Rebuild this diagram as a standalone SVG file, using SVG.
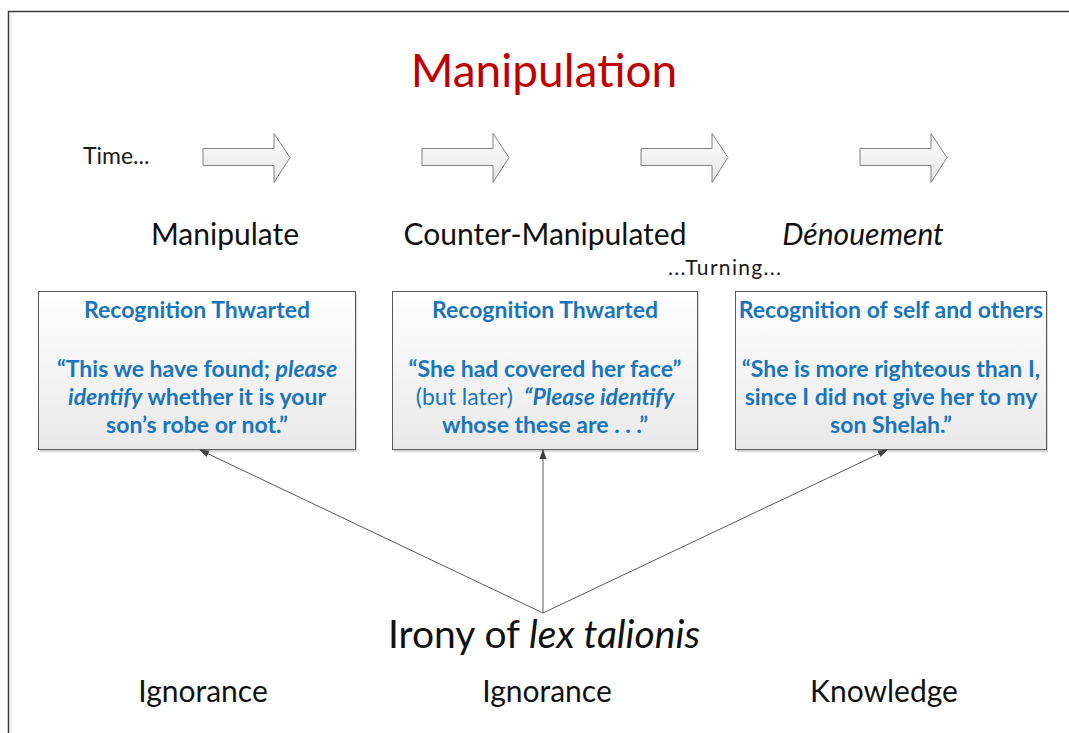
<svg xmlns="http://www.w3.org/2000/svg" width="1069" height="733" viewBox="0 0 1069 733">
  <defs>
    <linearGradient id="boxFill" x1="0" y1="0" x2="0" y2="1">
      <stop offset="0" stop-color="#ffffff"/>
      <stop offset="1" stop-color="#e9e9e9"/>
    </linearGradient>
    <linearGradient id="arrowFill" x1="0" y1="0" x2="0" y2="1">
      <stop offset="0" stop-color="#ffffff"/>
      <stop offset="1" stop-color="#e4e4e4"/>
    </linearGradient>
    <marker id="head" markerWidth="10" markerHeight="8" refX="9" refY="4" orient="auto" markerUnits="userSpaceOnUse">
      <path d="M0,0.5 L10,4 L0,7.5 Z" fill="#404040"/>
    </marker>
    <path id="blockArrow" d="M0,15 L71,15 L71,0 L87,24 L71,49 L71,32 L0,32 Z"/>
  </defs>
  <style>
    .frame { fill: none; stroke: #3a3a3a; stroke-width: 1.5; }
    .box { fill: url(#boxFill); stroke: #5a5a5a; stroke-width: 1; }
    .shadow { fill: #d6d6d6; }
    .barrow { fill: url(#arrowFill); stroke: #808080; stroke-width: 1; }
    .conn { fill: none; stroke: #5a5a5a; stroke-width: 1; marker-end: url(#head); }
    text { font-family: Lato, "Open Sans", "Liberation Sans", sans-serif; }
    .title { font-size: 46px; fill: #c00000; }
    .time { font-size: 23px; fill: #1a1a1a; }
    .phase { font-size: 30px; fill: #111; }
    .turn { font-size: 21px; fill: #1a1a1a; }
    .btxt { font-size: 23px; font-weight: bold; fill: #1a75bc; }
    .irony { font-size: 39px; fill: #111; }
    .state { font-size: 30px; fill: #111; }
    .it { font-style: italic; }
    .nb { font-weight: normal; }
  </style>

  <rect width="1069" height="733" fill="#ffffff"/>
  <rect class="frame" x="8.5" y="11.5" width="1100" height="800"/>
  <line x1="11" y1="14" x2="11" y2="733" stroke="#e6e6e6" stroke-width="1"/>

  <g id="title">
    <text class="title" x="544" y="87" text-anchor="middle">Manipulation</text>
  </g>

  <g id="timeline">
    <text class="time" x="83" y="164">Time...</text>
    <use href="#blockArrow" class="barrow" x="203" y="133.5"/>
    <use href="#blockArrow" class="barrow" x="422" y="133.5"/>
    <use href="#blockArrow" class="barrow" x="641" y="133.5"/>
    <use href="#blockArrow" class="barrow" x="860" y="133.5"/>
  </g>

  <g id="phases">
    <text class="phase" x="225" y="245" text-anchor="middle">Manipulate</text>
    <text class="phase" x="545" y="245" text-anchor="middle">Counter-Manipulated</text>
    <text class="phase it" x="863" y="245" text-anchor="middle" font-size="31">Dénouement</text>
    <text class="turn" x="668" y="275" textLength="113" lengthAdjust="spacing">...Turning...</text>
  </g>

  <g id="box1">
    <rect class="shadow" x="40" y="294" width="317" height="158"/>
    <rect class="box" x="38.5" y="291.5" width="317" height="158"/>
    <text class="btxt" x="197" y="318" text-anchor="middle">Recognition Thwarted</text>
    <text class="btxt" x="197" y="377" text-anchor="middle">“This we have found; <tspan class="it">please</tspan></text>
    <text class="btxt" x="197" y="405" text-anchor="middle"><tspan class="it">identify</tspan> whether it is your</text>
    <text class="btxt" x="197" y="433" text-anchor="middle">son’s robe or not.”</text>
  </g>

  <g id="box2">
    <rect class="shadow" x="394" y="294" width="305" height="158"/>
    <rect class="box" x="392.5" y="291.5" width="305" height="158"/>
    <text class="btxt" x="545" y="318" text-anchor="middle">Recognition Thwarted</text>
    <text class="btxt" x="545" y="377" text-anchor="middle">“She had covered her face”</text>
    <text class="btxt" x="545" y="405" text-anchor="middle" xml:space="preserve"><tspan class="nb">(but later)</tspan>  <tspan class="it">“Please identify</tspan></text>
    <text class="btxt" x="545" y="433" text-anchor="middle">whose these are . . .”</text>
  </g>

  <g id="box3">
    <rect class="shadow" x="737" y="294" width="311" height="158"/>
    <rect class="box" x="735.5" y="291.5" width="311" height="158"/>
    <text class="btxt" x="891" y="318" text-anchor="middle">Recognition of self and others</text>
    <text class="btxt" x="891" y="377" text-anchor="middle">“She is more righteous than I,</text>
    <text class="btxt" x="891" y="405" text-anchor="middle">since I did not give her to my</text>
    <text class="btxt" x="891" y="433" text-anchor="middle">son Shelah.”</text>
  </g>

  <g id="connectors">
    <line class="conn" x1="543" y1="613" x2="200" y2="450"/>
    <line class="conn" x1="543" y1="613" x2="543" y2="450"/>
    <line class="conn" x1="543" y1="613" x2="887" y2="450"/>
  </g>

  <g id="irony">
    <text class="irony" x="544" y="648" text-anchor="middle">Irony of <tspan class="it">lex talionis</tspan></text>
  </g>

  <g id="states">
    <text class="state" x="203" y="702" text-anchor="middle">Ignorance</text>
    <text class="state" x="547" y="702" text-anchor="middle">Ignorance</text>
    <text class="state" x="884" y="702" text-anchor="middle">Knowledge</text>
  </g>
</svg>
